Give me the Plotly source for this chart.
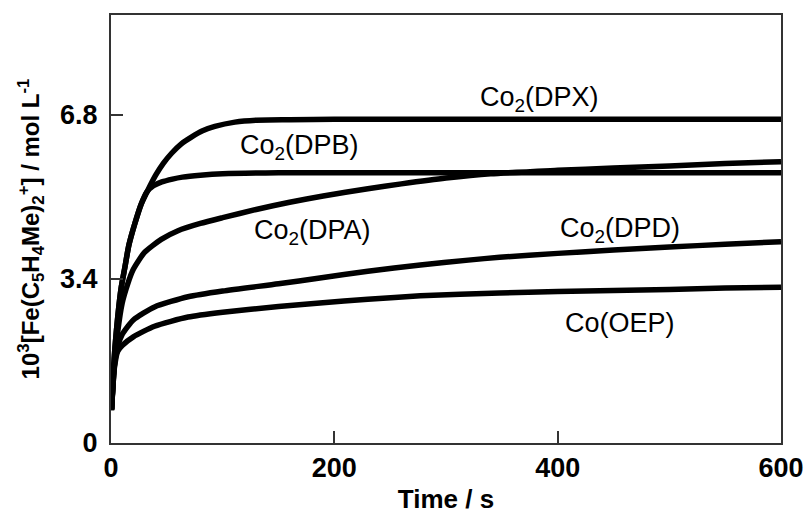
import plotly.graph_objects as go

# ---- data (time in s, concentration 10^3 [Fe(C5H4Me)2+] / mol L-1) ----
t_dpx = [0.5, 3, 6, 9, 12.5, 16, 21.5, 27, 33, 40, 47, 54.5, 63, 72, 82, 93, 111, 130, 160, 200, 300, 400, 500, 600]
v_dpx = [0.68, 1.8, 2.6, 3.2, 3.65, 4.1, 4.56, 4.95, 5.24, 5.55, 5.8, 6.01, 6.2, 6.34, 6.47, 6.56, 6.65, 6.69, 6.70, 6.71, 6.71, 6.71, 6.71, 6.71]

t_dpb = [0.5, 3, 6, 9, 12.5, 16, 21.5, 27, 32, 38, 45.5, 55, 64, 80, 100, 150, 200, 300, 400, 500, 600]
v_dpb = [0.68, 1.8, 2.6, 3.2, 3.65, 4.1, 4.56, 4.95, 5.2, 5.33, 5.41, 5.47, 5.51, 5.55, 5.58, 5.60, 5.60, 5.60, 5.60, 5.60, 5.60]

t_dpa = [0.5, 3, 6, 10, 15, 20, 30, 45, 60, 80, 100, 130, 160, 190, 230, 260, 300, 340, 400, 450, 500, 550, 600]
v_dpa = [0.7, 1.6, 2.3, 2.9, 3.3, 3.6, 3.95, 4.22, 4.4, 4.55, 4.67, 4.84, 4.99, 5.12, 5.27, 5.37, 5.49, 5.58, 5.65, 5.7, 5.74, 5.79, 5.83]

t_dpd = [0.5, 3, 6, 10, 20, 39, 69, 100, 150, 187, 230, 277, 320, 348, 400, 450, 500, 550, 600]
v_dpd = [0.7, 1.6, 2.0, 2.25, 2.55, 2.82, 3.03, 3.15, 3.3, 3.42, 3.56, 3.69, 3.79, 3.85, 3.93, 4.0, 4.06, 4.12, 4.17]

t_oep = [0.5, 3, 6, 10, 20, 39, 69, 100, 150, 187, 230, 277, 348, 400, 450, 500, 550, 600]
v_oep = [0.7, 1.55, 1.9, 2.02, 2.2, 2.42, 2.61, 2.71, 2.83, 2.9, 2.98, 3.05, 3.11, 3.14, 3.16, 3.18, 3.21, 3.23]

series = [
    ("Co<sub>2</sub>(DPX)", t_dpx, v_dpx),
    ("Co<sub>2</sub>(DPB)", t_dpb, v_dpb),
    ("Co<sub>2</sub>(DPA)", t_dpa, v_dpa),
    ("Co<sub>2</sub>(DPD)", t_dpd, v_dpd),
    ("Co(OEP)", t_oep, v_oep),
]

# label positions (data coords)
label_text = ["Co<sub>2</sub>(DPX)", "Co<sub>2</sub>(DPB)", "Co<sub>2</sub>(DPA)", "Co<sub>2</sub>(DPD)", "Co(OEP)"]
label_t = [384, 169, 180, 456, 456]
label_v = [7.12, 6.14, 4.37, 4.42, 2.49]

x_ticks = [0, 200, 400, 600]
y_ticks = [0, 3.4, 6.8]
y_tick_text = ["0", "3.4", "6.8"]

FONT = "Arial, Liberation Sans, Helvetica, sans-serif"

fig = go.Figure()
for name, t, v in series:
    fig.add_trace(go.Scatter(
        x=t, y=v, mode="lines", name=name,
        line=dict(color="black", width=5.5, shape="spline", smoothing=0.6),
        showlegend=False,
    ))

for txt, t, v in zip(label_text, label_t, label_v):
    fig.add_annotation(x=t, y=v, text=txt, showarrow=False,
                       font=dict(family=FONT, size=27, color="black"))

fig.update_layout(
    width=809, height=514,
    margin=dict(l=111, r=28, t=15, b=71),
    paper_bgcolor="white", plot_bgcolor="white",
    font=dict(family=FONT, color="black"),
)
fig.update_xaxes(
    range=[0, 600], tickvals=x_ticks, ticks="inside", ticklen=12, tickwidth=1.5,
    tickcolor="#333", showline=True, linecolor="#333", linewidth=2, mirror=True,
    showgrid=False, zeroline=False, automargin=False,
    tickfont=dict(family=FONT, size=27, color="black", weight="bold"),
    title=dict(text="<b>Time / s</b>", font=dict(family=FONT, size=26, color="black"), standoff=10),
)
fig.update_yaxes(
    range=[0, 8.87], tickvals=y_ticks, ticktext=y_tick_text, ticks="inside", ticklen=12,
    tickwidth=1.5, tickcolor="#333", showline=True, linecolor="#333", linewidth=2, mirror=True,
    showgrid=False, zeroline=False, automargin=False, ticklabelstandoff=6,
    tickfont=dict(family=FONT, size=27, color="black", weight="bold"),
    title=dict(text="<b>10<sup>3</sup>[Fe(C<sub>5</sub>H<sub>4</sub>Me)<sub>2</sub><sup>+</sup>] / mol L<sup>-1</sup></b>",
               font=dict(family=FONT, size=24, color="black"), standoff=14),
)

fig.write_html("out.html")
